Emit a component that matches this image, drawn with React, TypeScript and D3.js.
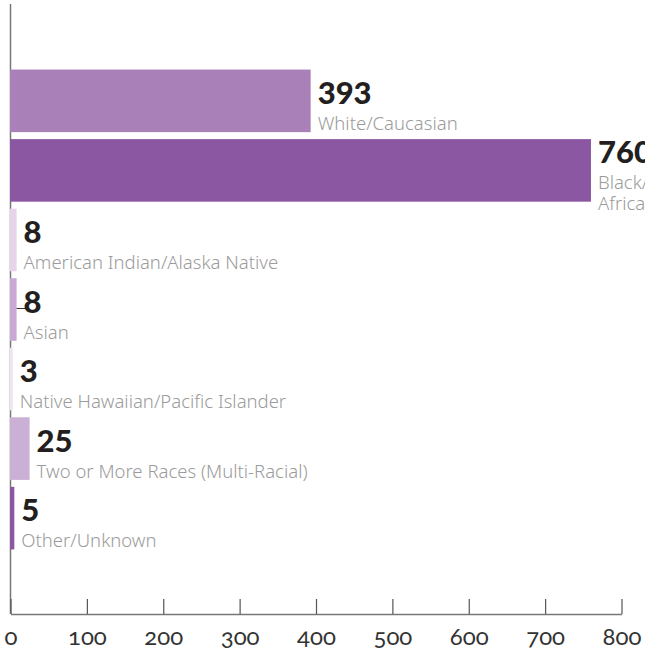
import * as d3 from "d3";
import { useEffect, useRef } from "react";

const categories = [
  "White/Caucasian",
  "Black/African American",
  "American Indian/Alaska Native",
  "Asian",
  "Native Hawaiian/Pacific Islander",
  "Two or More Races (Multi-Racial)",
  "Other/Unknown",
];
const counts = [393, 760, 8, 8, 3, 25, 5];
const barColors = ["#aa80b8", "#8b57a2", "#e7d4ea", "#c9a9d4", "#f0e4f2", "#cbb0d6", "#8b57a2"];
// category text broken over lines where the original wraps
const labelLines = [
  ["White/Caucasian"],
  ["Black/", "African American"],
  ["American Indian/Alaska Native"],
  ["Asian"],
  ["Native Hawaiian/Pacific Islander"],
  ["Two or More Races (Multi-Racial)"],
  ["Other/Unknown"],
];
const xTicks = [0, 100, 200, 300, 400, 500, 600, 700, 800];
const leaderRows = ["Asian"];

const width = 645;
const height = 653;

const App = () => {
  const ref = useRef<SVGSVGElement | null>(null);

  useEffect(() => {
    if (!ref.current) return;
    const svg = d3.select(ref.current);
    svg.selectAll("*").remove();

    const dataset = categories.map((name, i) => ({
      name,
      value: counts[i],
      color: barColors[i],
      lines: labelLines[i],
    }));

    const x = d3.scaleLinear().domain([0, 800]).range([10.5, 621.5]);
    const y = d3
      .scaleBand<string>()
      .domain(categories)
      .range([0, 619])
      .paddingInner(0.1)
      .paddingOuter(1);

    const axisY = 614;

    // y axis line (behind bars)
    svg
      .append("line")
      .attr("x1", x(0))
      .attr("x2", x(0))
      .attr("y1", 4)
      .attr("y2", axisY)
      .attr("stroke", "#777")
      .attr("stroke-width", 1.5);

    svg
      .append("g")
      .selectAll("rect")
      .data(dataset)
      .join("rect")
      .attr("x", x(0) - 0.5)
      .attr("y", (d) => y(d.name)!)
      .attr("width", (d) => x(d.value) - x(0) + 0.5)
      .attr("height", y.bandwidth())
      .attr("fill", (d) => d.color);

    // stray leader tick
    svg
      .append("g")
      .selectAll("line")
      .data(dataset.filter((d) => leaderRows.includes(d.name)))
      .join("line")
      .attr("x1", (d) => x(d.value))
      .attr("x2", (d) => x(d.value) + 10)
      .attr("y1", (d) => y(d.name)! + y.bandwidth() / 2 - 1)
      .attr("y2", (d) => y(d.name)! + y.bandwidth() / 2 - 1)
      .attr("stroke", "#333")
      .attr("stroke-width", 1);

    const labels = svg
      .append("g")
      .selectAll("g")
      .data(dataset)
      .join("g")
      .attr("transform", (d) => {
        const c = y(d.name)! + y.bandwidth() / 2;
        const base = c + 3 - 10.5 * (d.lines.length - 1);
        return `translate(${x(d.value) + 7},${base})`;
      });

    labels
      .append("text")
      .attr("font-family", "Lato, 'Noto Sans', sans-serif")
      .attr("font-weight", 900)
      .attr("font-size", 31)
      .attr("fill", "#231f20")
      .text((d) => d.value);

    labels
      .selectAll("text.cat")
      .data((d) => d.lines)
      .join("text")
      .attr("class", "cat")
      .attr("y", (_, i) => 26 + 21 * i)
      .attr("font-family", "'Noto Sans', Lato, sans-serif")
      .attr("font-weight", 300)
      .attr("font-size", 18.5)
      .attr("fill", "#9b9b9b")
      .text((d) => d);

    // x axis
    const xAxis = svg
      .append("g")
      .attr("transform", `translate(0,${axisY})`)
      .call(
        d3
          .axisBottom(x)
          .tickValues(xTicks)
          .tickSizeInner(-15)
          .tickSizeOuter(0)
          .tickPadding(14)
      );
    xAxis.select(".domain").attr("stroke", "#777").attr("stroke-width", 1.5);
    xAxis.selectAll(".tick line").attr("stroke", "#555").attr("stroke-width", 1.2);
    xAxis
      .selectAll(".tick text")
      .attr("font-family", "Lato, 'Noto Sans', sans-serif")
      .attr("font-size", 24)
      .attr("fill", "#333")
      .style("font-variant-numeric", "oldstyle-nums")
      .style("font-feature-settings", "'onum' 1");
  }, []);

  return (
    <svg
      ref={ref}
      width={width}
      height={height}
      style={{ position: "absolute", left: 0, top: 0, background: "#fff" }}
    />
  );
};

export default App;
